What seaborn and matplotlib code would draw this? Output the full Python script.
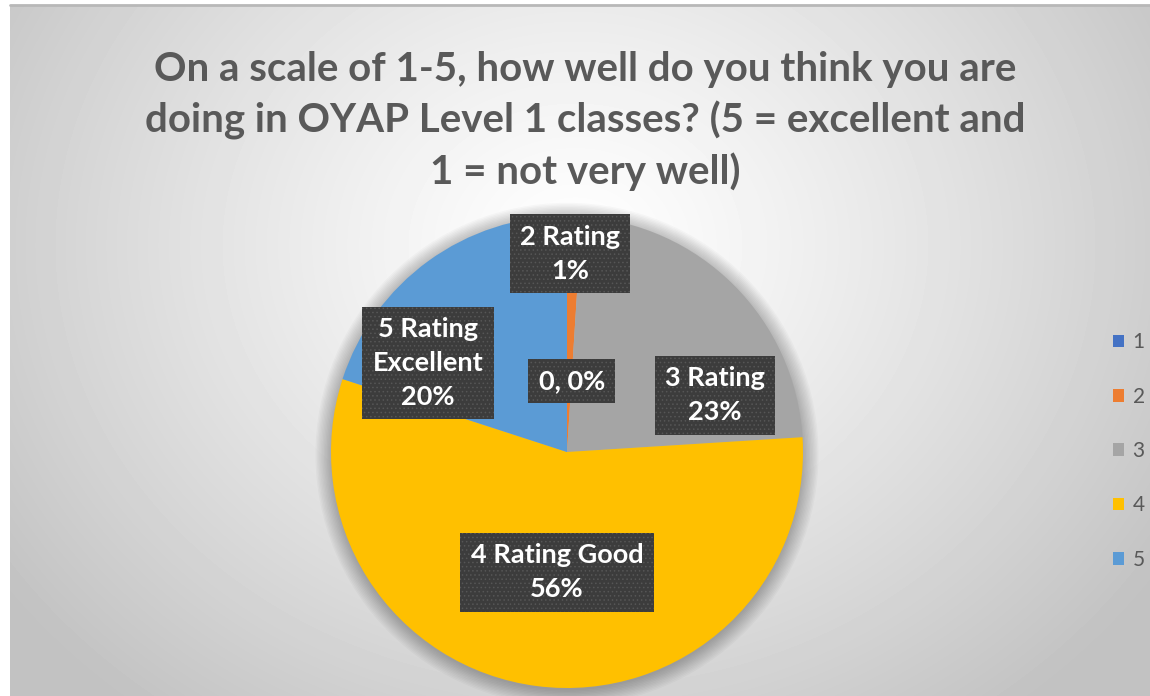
import numpy as np
import matplotlib
matplotlib.use('Agg')
from matplotlib import pyplot as plt
from matplotlib.patches import Circle
import seaborn as sns

# Data
ratings = ['1', '2', '3', '4', '5']
shares = [0, 1, 23, 56, 20]
label_names = ['0,', '2 Rating', '3 Rating', '4 Rating Good', '5 Rating\nExcellent']
title = ('On a scale of 1-5, how well do you think you are\n'
         'doing in OYAP Level 1 classes? (5 = excellent and\n'
         '1 = not very well)')

sns.set_theme(style='white')
plt.rcParams['font.family'] = ['Lato', 'DejaVu Sans']
plt.rcParams['hatch.linewidth'] = 0.6

colors = sns.color_palette(['#4472C4', '#ED7D31', '#A5A5A5', '#FFC000', '#5B9BD5'])

W, H = 1150, 696
fig = plt.figure(figsize=(W / 100, H / 100), dpi=100)
fig.patch.set_facecolor('white')

# Radial gradient background
bg = fig.add_axes([10 / W, 0, (W - 10) / W, (H - 5) / H])
yy, xx = np.mgrid[0:H - 5, 0:W - 10]
dist = np.sqrt(((xx - 565) / 1.0) ** 2 + ((yy - 240) / 0.85) ** 2)
t = np.clip(dist / 700, 0, 1) ** 1.2
shade = 1.0 - t * (1.0 - 0.76)
bg.imshow(shade, cmap='gray', vmin=0, vmax=1, aspect='auto', interpolation='bilinear')
bg.set_axis_off()
fig.add_artist(plt.Line2D([10 / W, 1], [(H - 5) / H, (H - 5) / H], color='#b8b8b8', lw=2))

# Pie axes
cx, cy, r = 567, 452, 236
ax = fig.add_axes([(cx - r) / W, (H - cy - r) / H, 2 * r / W, 2 * r / H])

# soft shadow
for k in range(12):
    ax.add_patch(Circle((0.0, -0.01), 1.0 + 0.006 * k, color='black', alpha=0.025,
                        zorder=0, clip_on=False, lw=0))

wedges, _ = ax.pie(shares, colors=colors, startangle=90, counterclock=False,
                   radius=1, wedgeprops=dict(linewidth=0))
for w in wedges:
    w.set_zorder(2)
ax.set_xlim(-1, 1)
ax.set_ylim(-1, 1)
ax.set_axis_off()

# Data labels
pcts = [f'{s}%' for s in shares]
labels = [label_names[0] + ' ' + pcts[0]] + [n + '\n' + p for n, p in zip(label_names[1:], pcts[1:])]
label_pos = [(0.02, 0.30), (0.013, 0.84), (0.627, 0.24), (-0.042, -0.51), (-0.589, 0.377)]

for lab, (lx, ly) in zip(labels, label_pos):
    ax.text(lx, ly, lab, ha='center', va='center', color='white', fontsize=19.5,
            fontweight='bold', linespacing=1.5, zorder=5,
            bbox=dict(boxstyle='square,pad=0.38', facecolor='#3c3c3c', edgecolor='#565656',
                      linewidth=0, hatch='....'))

# Legend
leg = fig.legend(wedges, ratings, loc='center left', bbox_to_anchor=(1094 / W, 1 - 451 / H),
                 frameon=False, fontsize=15, handlelength=0.55, handleheight=0.55,
                 handletextpad=0.4, labelspacing=1.65, labelcolor='#595959')

# Title
fig.text(585 / W, 1 - 121 / H, title, ha='center', va='center', fontsize=29,
         fontweight='bold', color='#595959', linespacing=1.4)

fig.savefig('out.png', dpi=100)
